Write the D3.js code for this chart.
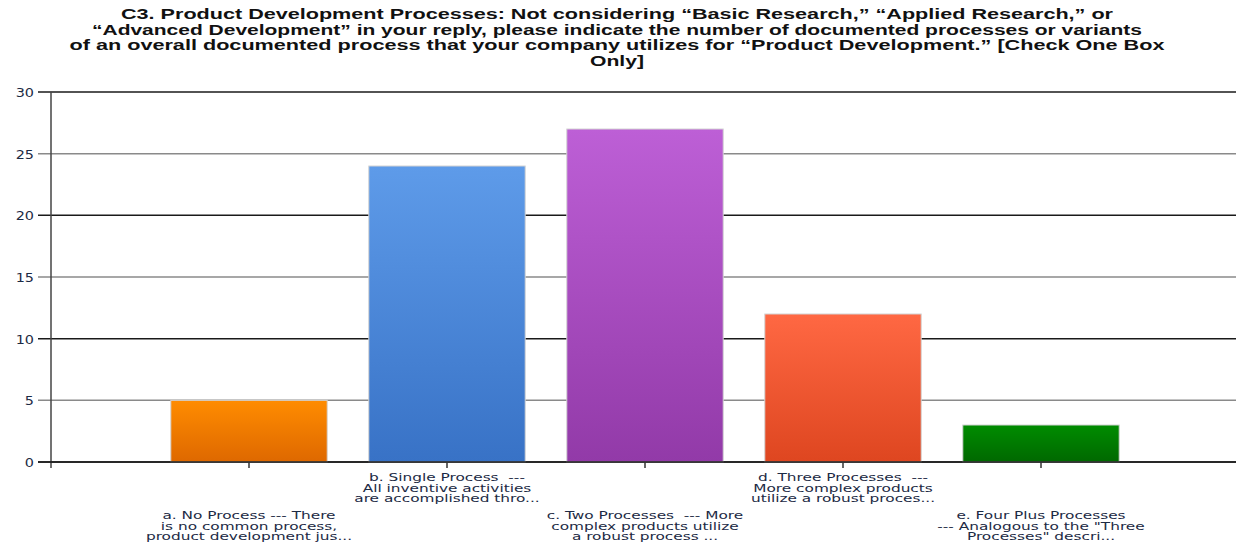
<!DOCTYPE html>
<meta charset="utf-8">
<style>
body { margin: 0; background: #fff; }
</style>
<body>
<script src="https://d3js.org/d3.v7.min.js"></script>
<script>

// data
var titleLines = [
  "C3. Product Development Processes: Not considering \u201CBasic Research,\u201D \u201CApplied Research,\u201D or",
  "\u201CAdvanced Development\u201D in your reply, please indicate the number of documented processes or variants",
  "of an overall documented process that your company utilizes for \u201CProduct Development.\u201D [Check One Box",
  "Only]"
];
var titleWidths = [992, 1050, 1095, 54];

var categories = ["a", "b", "c", "d", "e"];
var values = [5, 24, 27, 12, 3];
var catLabels = [
  ["a. No Process --- There", "is no common process,", "product development jus..."],
  ["b. Single Process  ---", "All inventive activities", "are accomplished thro..."],
  ["c. Two Processes  --- More", "complex products utilize", "a robust process ..."],
  ["d. Three Processes  ---", "More complex products", "utilize a robust proces..."],
  ["e. Four Plus Processes", "--- Analogous to the \"Three", "Processes\" descri..."]
];
var yTicks = [0, 5, 10, 15, 20, 25, 30];
var barColors = [
  ["#ff8c00", "#de6800"],
  ["#5e9be9", "#3872c6"],
  ["#bd5fd6", "#923aa8"],
  ["#ff6843", "#de4620"],
  ["#008c00", "#006800"]
];

var W = 1236, H = 546;
var plotLeft = 51, plotRight = 1239, plotTop = 92, plotBottom = 462;

var svg = d3.select("body").append("svg")
    .attr("width", W)
    .attr("height", H);

// gradients
var defs = svg.append("defs");
barColors.forEach(function(c, i) {
  var g = defs.append("linearGradient")
      .attr("id", "grad" + i)
      .attr("x1", 0).attr("y1", 0).attr("x2", 0).attr("y2", 1);
  g.append("stop").attr("offset", "0%").attr("stop-color", c[0]);
  g.append("stop").attr("offset", "100%").attr("stop-color", c[1]);
});

// scales
var x = d3.scalePoint().domain(categories).range([plotLeft, plotRight]).padding(1);
var y = d3.scaleLinear().domain([0, 30]).range([plotBottom, plotTop]);
var barW = x.step() * 0.79;

// title
svg.append("g").selectAll("text")
    .data(titleLines)
  .enter().append("text")
    .attr("x", 617)
    .attr("y", function(d, i) { return 19 + i * 15.5; })
    .attr("text-anchor", "middle")
    .style("font-family", "'Liberation Sans', Arial, sans-serif")
    .attr("font-weight", "bold")
    .attr("font-size", 14)
    .attr("fill", "#111")
    .attr("textLength", function(d, i) { return titleWidths[i]; })
    .attr("lengthAdjust", "spacingAndGlyphs")
    .text(function(d) { return d; });

// gridlines, alternate dark / grey
svg.append("g").selectAll("line")
    .data(yTicks)
  .enter().append("line")
    .attr("x1", 38)
    .attr("x2", W)
    .attr("y1", function(d) { return y(d); })
    .attr("y2", function(d) { return y(d); })
    .attr("stroke", function(d) { return d % 10 == 0 ? "#1a1a1a" : "#8a8a8a"; })
    .attr("stroke-width", 1.5);

// y axis line
svg.append("line")
    .attr("x1", plotLeft).attr("x2", plotLeft)
    .attr("y1", y(30)).attr("y2", plotBottom + 6)
    .attr("stroke", "#444")
    .attr("stroke-width", 1.5);

// bars
svg.append("g").selectAll("rect")
    .data(values)
  .enter().append("rect")
    .attr("x", function(d, i) { return x(categories[i]) - barW / 2; })
    .attr("y", function(d) { return y(d); })
    .attr("width", barW)
    .attr("height", function(d) { return y(0) - y(d); })
    .attr("fill", function(d, i) { return "url(#grad" + i + ")"; })
    .attr("stroke", "#d4d4d4")
    .attr("stroke-width", 1);

// x axis baseline and ticks
svg.append("line")
    .attr("x1", 38).attr("x2", W)
    .attr("y1", plotBottom).attr("y2", plotBottom)
    .attr("stroke", "#1a1a1a")
    .attr("stroke-width", 1.5);
svg.append("g").selectAll("line")
    .data(categories)
  .enter().append("line")
    .attr("x1", function(d) { return x(d); })
    .attr("x2", function(d) { return x(d); })
    .attr("y1", plotBottom)
    .attr("y2", plotBottom + 6)
    .attr("stroke", "#333")
    .attr("stroke-width", 1.5);

// y tick labels
svg.append("g").selectAll("text")
    .data(yTicks)
  .enter().append("text")
    .style("font-family", "'DejaVu Sans', Verdana, sans-serif")
    .attr("font-size", 12)
    .attr("fill", "#1c2a44")
    .attr("text-anchor", "end")
    .attr("transform", function(d) { return "translate(34," + (y(d) + 5) + ") scale(1.2,1)"; })
    .text(function(d) { return d; });

// category labels, staggered in two rows
var labG = svg.append("g");
catLabels.forEach(function(lines, i) {
  var y0 = (i % 2 == 1) ? 481 : 519;
  lines.forEach(function(t, j) {
    labG.append("text")
        .style("font-family", "'DejaVu Sans', Verdana, sans-serif")
        .style("white-space", "pre")
        .attr("font-size", 10.5)
        .attr("fill", "#1c2a44")
        .attr("text-anchor", "middle")
        .attr("transform", "translate(" + x(categories[i]) + "," + (y0 + j * 10.5) + ") scale(1.46,1)")
        .text(t);
  });
});

</script>
</body>
